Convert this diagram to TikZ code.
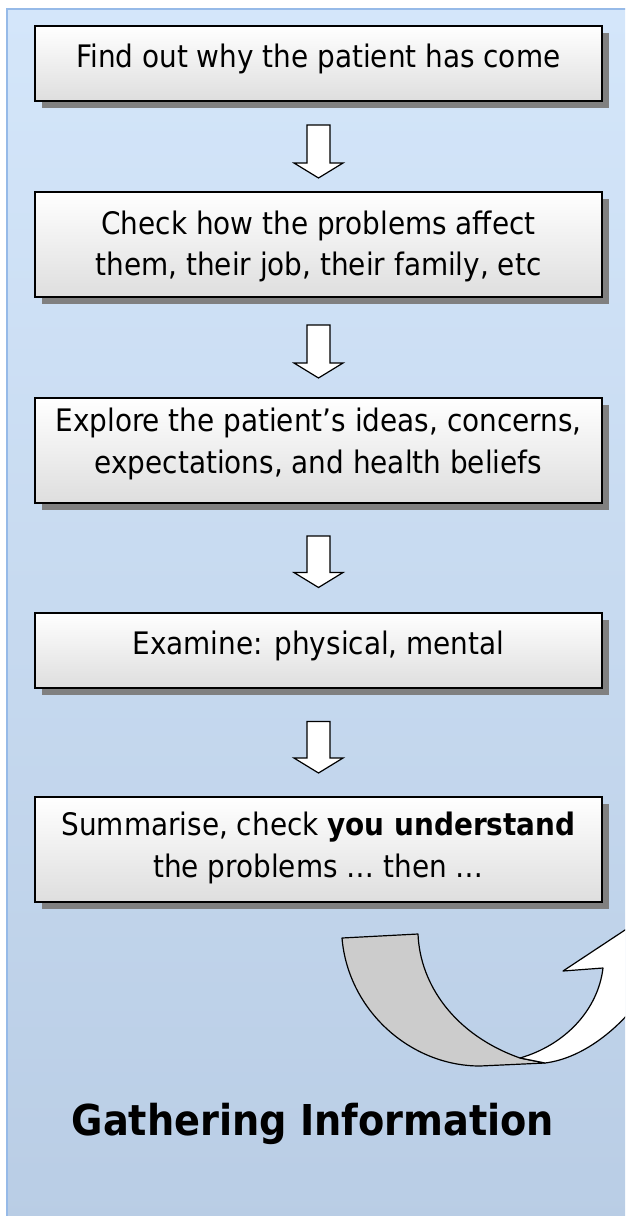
\documentclass[tikz,border=0pt]{standalone}
\usepackage{fontspec}
\setmainfont{DejaVu Sans Condensed}
\usetikzlibrary{shadows,calc}
\definecolor{paneltop}{RGB}{212,230,250}
\definecolor{panelbot}{RGB}{185,205,229}
\definecolor{panelline}{RGB}{150,186,232}
\definecolor{boxbot}{RGB}{222,222,222}
\definecolor{shadowgray}{RGB}{128,128,128}
\definecolor{ribbongray}{RGB}{204,204,204}
\newcommand\blockarrow[2]{%
  \draw[barrow] ([xshift=-8.6pt]#1) -- ([xshift=8.6pt]#1)
    -- ([xshift=8.6pt,yshift=11.25pt]#2) -- ([xshift=18.4pt,yshift=11.25pt]#2)
    -- (#2) -- ([xshift=-18.4pt,yshift=11.25pt]#2)
    -- ([xshift=-8.6pt,yshift=11.25pt]#2) -- cycle;}
\begin{document}
\begin{tikzpicture}[x=0.75pt,y=-0.75pt,
  stepbox/.style={rectangle, draw=black, line width=1.5pt, top color=white,
    bottom color=boxbot, minimum width=425.25pt, inner sep=0pt,
    drop shadow={shadow xshift=5.25pt, shadow yshift=-5.25pt, fill=shadowgray, opacity=1}},
  onebox/.style={stepbox, minimum height=56.25pt},
  twobox/.style={stepbox, minimum height=78.75pt},
  steptext/.style={font=\fontsize{23.25pt}{31.5pt}\selectfont, align=center, inner sep=0pt, anchor=base},
  barrow/.style={draw=black, fill=white, line width=0.9pt, line join=miter},
  ribbon/.style={draw=black, line width=0.9pt, line join=round}]
\useasboundingbox (0,0) rectangle (625,1216);
\begin{scope}
\clip (0,0) rectangle (625,1216);
\fill[white] (0,0) rectangle (625,1216);
\shade[top color=paneltop, bottom color=panelbot] (7,9) rectangle (640,1230);
\draw[panelline, line width=2pt] (7,1230) -- (7,9) -- (640,9);

% boxes
\node[onebox] (b1) at (318.5,63.5) {};
\node[twobox] (b2) at (318.5,244.5) {};
\node[twobox] (b3) at (318.5,450.5) {};
\node[onebox] (b4) at (318.5,650) {};
\node[twobox] (b5) at (318.5,849.5) {};

\node[steptext] (t1) at (318.5,68) {Find out why the patient has come};
\node[steptext] (t2) at (318.5,276) {Check how the problems affect\\them, their job, their family, etc};
\node[steptext] (t3) at (318.5,473) {Explore the patient’s ideas, concerns,\\expectations, and health beliefs};
\node[steptext] (t4) at (318.5,654) {Examine: physical, mental};
\node[steptext] (t5) at (318.5,877) {Summarise, check \textbf{you understand}\\the problems … then …};

% block arrows
\coordinate (a1s) at ($(b1.south)+(0,23)$);
\coordinate (a1e) at ($(b2.north)+(0,-13)$);
\coordinate (a2s) at ($(b2.south)+(0,27)$);
\coordinate (a2e) at ($(b3.north)+(0,-19)$);
\coordinate (a3s) at ($(b3.south)+(0,32)$);
\coordinate (a3e) at ($(b4.north)+(0,-24)$);
\coordinate (a4s) at ($(b4.south)+(0,33)$);
\coordinate (a4e) at ($(b5.north)+(0,-23)$);
\blockarrow{a1s}{a1e}
\blockarrow{a2s}{a2e}
\blockarrow{a3s}{a3e}
\blockarrow{a4s}{a4e}

% curved up arrow
\draw[ribbon, fill=ribbongray] (342,938) -- (418,934)
  .. controls (420,985) and (455,1035) .. (520,1058) -- (545,1063) -- (480,1066)
  .. controls (410,1066) and (348,1010) .. (342,938) -- cycle;
\draw[ribbon, fill=white] (520,1058) .. controls (565,1045) and (598,1010) .. (603,968)
  -- (563,971) -- (690,887) -- (700,960) -- (650,985)
  .. controls (625,1025) and (585,1058) .. (545,1063) -- cycle;

\node[font=\bfseries\fontsize{31.9pt}{38pt}\selectfont, anchor=base] (title) at (313,1135) {Gathering Information};
\end{scope}
\end{tikzpicture}
\end{document}
